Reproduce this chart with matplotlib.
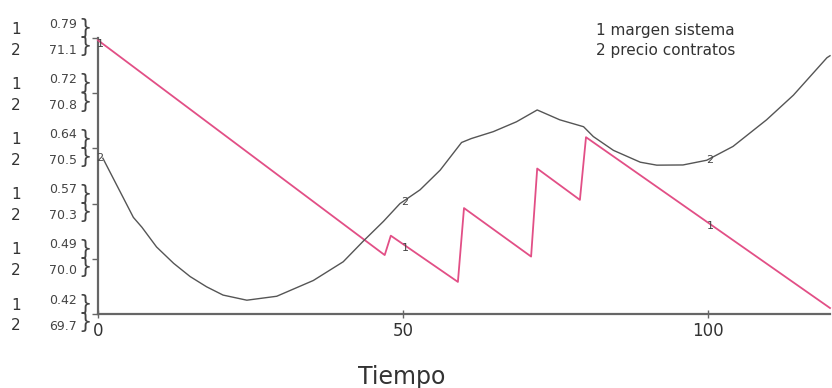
import numpy as np
import matplotlib.pyplot as plt

# serie 1: margen sistema (escala izquierda superior)
t_margen = [0, 47, 48, 59, 60, 71, 72, 79, 80, 120]
margen = [0.787, 0.499, 0.525, 0.463, 0.562, 0.497, 0.615, 0.573, 0.657, 0.428]

# serie 2: precio contratos (escala izquierda inferior)
t_precio = [0.8, 5.8, 7.2, 9.6, 12.4, 15.1, 17.8, 20.5, 24.4, 29.3, 35.3, 40.2,
            43.5, 46.8, 49.5, 52.8, 56.1, 59.6, 61.2, 64.8, 68.6, 72.0, 75.7,
            79.6, 81.2, 84.5, 88.9, 91.6, 95.9, 99.8, 104.1, 109.6, 114.0,
            119.5, 120]
precio = [70.49, 70.19, 70.14, 70.04, 69.957, 69.89, 69.838, 69.796, 69.77,
          69.79, 69.87, 69.965, 70.07, 70.17, 70.26, 70.33, 70.43, 70.57,
          70.59, 70.625, 70.675, 70.735, 70.685, 70.65, 70.60, 70.53, 70.47,
          70.455, 70.456, 70.48, 70.55, 70.685, 70.81, 71.0, 71.01]

lim_margen = (0.42, 0.79)
lim_precio = (69.7, 71.1)
labels_margen = ["0.42", "0.49", "0.57", "0.64", "0.72", "0.79"]
labels_precio = ["69.7", "70.0", "70.3", "70.5", "70.8", "71.1"]
xticks = [0, 50, 100]

PINK = "#e24f86"
DARK = "#555555"
AXIS = "#666666"

fig = plt.figure(figsize=(8.32, 3.88), dpi=100)
ax = fig.add_axes([98 / 832, 1 - 314 / 388, 732 / 832, 276 / 388])
ax2 = ax.twinx()

ax.set_xlim(0, 120)
ax.set_ylim(*lim_margen)
ax2.set_ylim(*lim_precio)

ax.plot(t_margen, margen, color=PINK, lw=1.3, clip_on=False, zorder=3)
ax2.plot(t_precio, precio, color=DARK, lw=1.0, clip_on=False, zorder=3)

# curve numbers placed on the lines at t = 0, 50, 100
for t in xticks:
    ax.text(t + 0.3, np.interp(t, t_margen, margen) - 0.005, "1",
            fontsize=8, color="#444444", ha="center", va="center", zorder=4)
    ax2.text(t + 0.3, np.interp(t, t_precio, precio), "2",
             fontsize=8, color="#444444", ha="center", va="center", zorder=4)

for a in (ax, ax2):
    for s in ("top", "right"):
        a.spines[s].set_visible(False)
ax2.spines["left"].set_visible(False)
ax2.spines["bottom"].set_visible(False)
ax2.set_yticks([])

for s in ("left", "bottom"):
    ax.spines[s].set_color(AXIS)
    ax.spines[s].set_linewidth(1.6)

tick_pos = np.linspace(*lim_margen, len(labels_margen))
ax.set_yticks(tick_pos)
ax.set_yticklabels([])
ax.tick_params(axis="y", direction="out", length=4.5, width=1, color=AXIS)

ax.set_xticks(xticks)
ax.set_xticklabels([str(v) for v in xticks], fontsize=12, color="#333333")
ax.tick_params(axis="x", direction="inout", length=6, width=1, color=AXIS, pad=3)

# paired tick labels: series 1 above, series 2 below each tick
ytr = ax.get_yaxis_transform()
for pos, l1, l2 in zip(tick_pos, labels_margen, labels_precio):
    for dy_num, dy_val, num, val in ((9, 14, "1", l1), (-12, -12, "2", l2)):
        ax.annotate(num, (0, pos), xycoords=ytr, xytext=(-82, dy_num),
                    textcoords="offset pixels", ha="center", va="center",
                    fontsize=11, color="#333333", annotation_clip=False)
        ax.annotate(val, (0, pos), xycoords=ytr, xytext=(-21, dy_val),
                    textcoords="offset pixels", ha="right", va="center",
                    fontsize=9, color="#444444", annotation_clip=False)
        ax.annotate("}", (0, pos), xycoords=ytr, xytext=(-13, dy_val * 0.7),
                    textcoords="offset pixels", ha="center", va="center",
                    fontsize=15, color="#444444", annotation_clip=False)

fig.text(596 / 832, 1 - 30 / 388, "1 margen sistema", fontsize=11,
         color="#333333", ha="left", va="center")
fig.text(596 / 832, 1 - 50 / 388, "2 precio contratos", fontsize=11,
         color="#333333", ha="left", va="center")
fig.text(402 / 832, 1 - 377 / 388, "Tiempo", fontsize=17,
         color="#333333", ha="center", va="center")

fig.savefig("out.png", dpi=100)
